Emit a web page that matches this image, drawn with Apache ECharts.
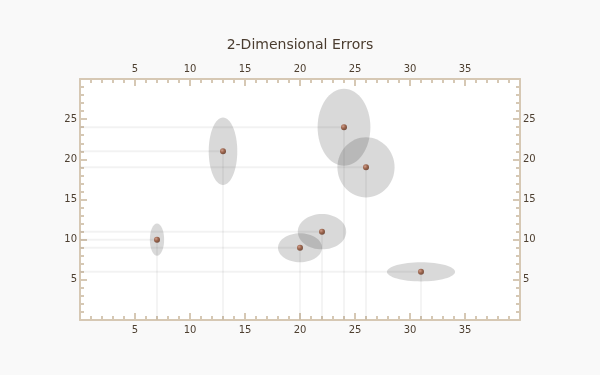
<!DOCTYPE html>
<html><head><meta charset="utf-8">
<script src="https://cdn.jsdelivr.net/npm/echarts@6/dist/echarts.min.js"></script>
<style>html,body{margin:0;padding:0;background:#f9f9f9}#c{width:600px;height:375px}</style>
</head><body><div id="c"></div>
<script>
var xs = [7, 13, 20, 22, 24, 26, 31];
var ys = [10, 21, 9, 11, 24, 19, 6];
var xErr = [0.65, 1.3, 2.0, 2.2, 2.4, 2.6, 3.1];
var yErr = [2.0, 4.2, 1.8, 2.2, 4.8, 3.75, 1.2];
var title = '2-Dimensional Errors';

var pts = xs.map(function(x,i){return [x, ys[i], xErr[i], yErr[i]];});
var axisColor = '#d6c8b4';
var labelColor = '#4d3f30';
var font = 'DejaVu Sans';

function xAx(pos){
  return {type:'value', position:pos, min:0, max:40, interval:5,
    axisLine:{show:true, onZero:false, lineStyle:{color:axisColor, width:2}},
    axisTick:{show:true, inside:true, length:7, lineStyle:{color:axisColor, width:2}},
    minorTick:{show:true, splitNumber:5, length:4, lineStyle:{color:axisColor, width:2}},
    axisLabel:{color:labelColor, fontFamily:font, fontSize:10, margin:5, showMinLabel:false, showMaxLabel:false},
    splitLine:{show:false}};
}
function yAx(pos){
  return {type:'value', position:pos, min:0, max:30, interval:5,
    axisLine:{show:true, onZero:false, lineStyle:{color:axisColor, width:2}},
    axisTick:{show:true, inside:true, length:7, lineStyle:{color:axisColor, width:2}},
    minorTick:{show:true, splitNumber:5, length:4, lineStyle:{color:axisColor, width:2}},
    axisLabel:{color:labelColor, fontFamily:font, fontSize:10, margin:3, showMinLabel:false, showMaxLabel:false},
    splitLine:{show:false}};
}

var chart = echarts.init(document.getElementById('c'), null, {renderer:'canvas'});
chart.setOption({
  backgroundColor:'#f9f9f9',
  animation:false,
  title:{text:title, left:'center', top:33, textStyle:{fontFamily:font, fontSize:14, fontWeight:'normal', color:'#4a3c2f'}},
  grid:{left:80, right:80, top:79, bottom:55, show:true, backgroundColor:'#ffffff', borderWidth:0},
  xAxis:[xAx('bottom'), xAx('top')],
  yAxis:[yAx('left'), yAx('right')],
  series:[
    {type:'custom', xAxisIndex:0, yAxisIndex:0, data:pts, z:1,
      renderItem:function(params, api){
        var x = api.value(0), y = api.value(1);
        var p = api.coord([x,y]);
        var p0 = api.coord([0,y]);
        var pb = api.coord([x,0]);
        return {type:'group', children:[
          {type:'line', shape:{x1:p0[0], y1:p[1], x2:p[0], y2:p[1]}, style:{stroke:'rgba(0,0,0,0.05)', lineWidth:2}},
          {type:'line', shape:{x1:p[0], y1:p[1], x2:pb[0], y2:pb[1]}, style:{stroke:'rgba(0,0,0,0.09)', lineWidth:1}}
        ]};
      }},
    {type:'custom', xAxisIndex:0, yAxisIndex:0, data:pts, z:2,
      renderItem:function(params, api){
        var x = api.value(0), y = api.value(1);
        var p = api.coord([x,y]);
        var s = api.size([api.value(2), api.value(3)]);
        return {type:'ellipse', shape:{cx:p[0], cy:p[1], rx:s[0], ry:s[1]}, style:{fill:'rgba(0,0,0,0.15)'}};
      }},
    {type:'scatter', xAxisIndex:0, yAxisIndex:0, data:pts.map(function(d){return [d[0],d[1]];}), z:3,
      symbol:'circle', symbolSize:6,
      itemStyle:{color:new echarts.graphic.RadialGradient(0.35,0.35,0.7,[{offset:0,color:'#d0907a'},{offset:0.5,color:'#8e4a2c'},{offset:1,color:'#5a2a16'}])}}
  ]
});
</script></body></html>
